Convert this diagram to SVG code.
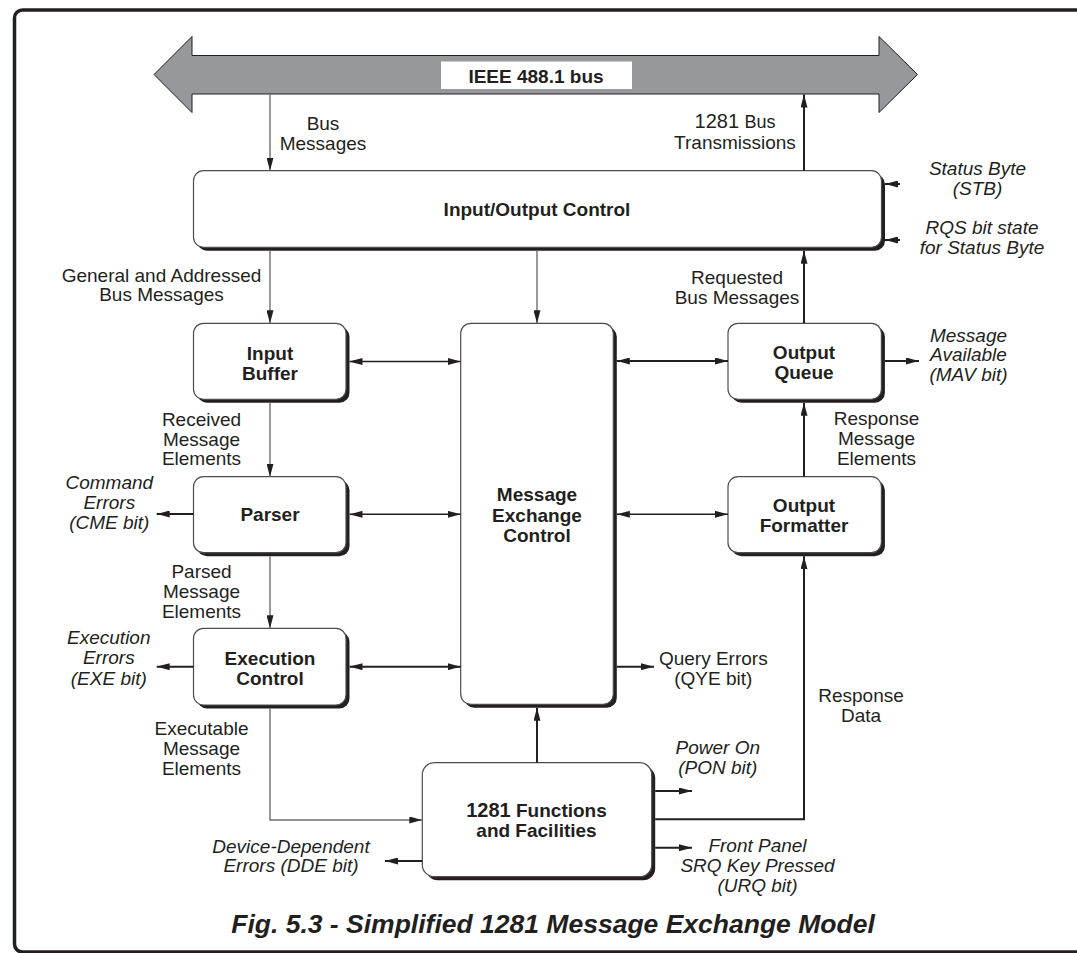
<svg xmlns="http://www.w3.org/2000/svg" width="1077" height="953" viewBox="0 0 1077 953">
<style>
.t{font-family:"Liberation Sans",Arial,Helvetica,sans-serif;font-size:19px;fill:#231f20}
.b{font-weight:bold}
.i{font-style:italic}
.cap{font-size:26.5px}
.box{fill:#fff;stroke:#4d4d4f;stroke-width:1.2}
.sh{fill:#231f20}
.g{stroke:#6d6e71;stroke-width:1.4;fill:none}
.d{stroke:#231f20;stroke-width:2;fill:none}
.m{stroke:#231f20;stroke-width:1.6;fill:none}
.e{marker-end:url(#ah)}
.s{marker-start:url(#ah)}
</style>
<defs>
<marker id="ah" markerUnits="userSpaceOnUse" markerWidth="13" markerHeight="7" refX="13" refY="3.5" orient="auto-start-reverse" viewBox="0 0 13 7">
<path d="M0,0 L13,3.5 L0,7 z" fill="#231f20"/>
</marker>
</defs>
<rect width="1077" height="953" fill="#fff"/>
<rect x="14.5" y="10" width="1090" height="942" rx="8" fill="none" stroke="#231f20" stroke-width="3.5"/>

<g id="bus">
<polygon points="154,74.5 192,36.5 192,55.5 879,55.5 879,36.5 917.5,74.5 879,112.5 879,94 192,94 192,112.5" fill="#97989c" stroke="#231f20" stroke-width="1"/>
<rect x="441" y="61.5" width="191" height="27.5" fill="#fff"/>
<text class="t b" x="536" y="83" text-anchor="middle">IEEE 488.1 bus</text>
</g>

<g id="io-control">
<rect class="sh" x="197" y="174.2" width="688" height="76.6" rx="10"/>
<rect class="box" x="193.5" y="170.7" width="688" height="76.6" rx="10"/>
<text class="t b" x="537" y="216" text-anchor="middle">Input/Output Control</text>
</g>

<g id="input-buffer">
<rect class="sh" x="197" y="326.8" width="152.5" height="76" rx="10"/>
<rect class="box" x="193.5" y="323.3" width="152.5" height="76" rx="10"/>
<text class="t b" x="270" y="360" text-anchor="middle">Input</text>
<text class="t b" x="270" y="380" text-anchor="middle">Buffer</text>
</g>

<g id="parser">
<rect class="sh" x="197" y="480.2" width="152.5" height="76" rx="10"/>
<rect class="box" x="193.5" y="476.7" width="152.5" height="76" rx="10"/>
<text class="t b" x="270" y="521" text-anchor="middle">Parser</text>
</g>

<g id="execution-control">
<rect class="sh" x="197" y="631.8" width="152.5" height="76.7" rx="10"/>
<rect class="box" x="193.5" y="628.3" width="152.5" height="76.7" rx="10"/>
<text class="t b" x="270" y="665" text-anchor="middle">Execution</text>
<text class="t b" x="270" y="685" text-anchor="middle">Control</text>
</g>

<g id="message-exchange-control">
<rect class="sh" x="464.2" y="326.8" width="152.6" height="381" rx="10"/>
<rect class="box" x="460.7" y="323.3" width="152.6" height="381" rx="10"/>
<text class="t b" x="537" y="501" text-anchor="middle">Message</text>
<text class="t b" x="537" y="521.5" text-anchor="middle">Exchange</text>
<text class="t b" x="537" y="542" text-anchor="middle">Control</text>
</g>

<g id="output-queue">
<rect class="sh" x="731.5" y="326.8" width="153.4" height="76" rx="10"/>
<rect class="box" x="728" y="323.3" width="153.4" height="76" rx="10"/>
<text class="t b" x="804" y="359.3" text-anchor="middle">Output</text>
<text class="t b" x="804" y="379" text-anchor="middle">Queue</text>
</g>

<g id="output-formatter">
<rect class="sh" x="731.5" y="480.2" width="153.4" height="76" rx="10"/>
<rect class="box" x="728" y="476.7" width="153.4" height="76" rx="10"/>
<text class="t b" x="804" y="512" text-anchor="middle">Output</text>
<text class="t b" x="804" y="532" text-anchor="middle">Formatter</text>
</g>

<g id="functions-facilities">
<rect class="sh" x="425.8" y="766.2" width="229.4" height="114" rx="12"/>
<rect class="box" x="422.3" y="762.7" width="229.4" height="114" rx="12"/>
<text class="t b" x="536.5" y="817.3" text-anchor="middle"><tspan font-size="20">1281</tspan> Functions</text>
<text class="t b" x="536.5" y="837.3" text-anchor="middle">and Facilities</text>
</g>

<g id="connectors">
<path class="g e" d="M270,94.5 V170.7"/>
<path class="d e" d="M804,170.7 V94.5"/>
<path class="d e" d="M900,184 H885"/>
<path class="d e" d="M900,240 H885"/>
<path class="g e" d="M270,250.8 V323.3"/>
<path class="g e" d="M537,250.8 V323.3"/>
<path class="d e" d="M804,323.3 V250.8"/>
<path class="m s e" d="M349.5,361.5 H460.7"/>
<path class="d s e" d="M616.8,361 H728"/>
<path class="d e" d="M884.9,361 H919"/>
<path class="g e" d="M270,402.8 V476.7"/>
<path class="d e" d="M193.5,514 H156.7"/>
<path class="m s e" d="M349.5,514.3 H460.7"/>
<path class="m s e" d="M616.8,514.3 H728"/>
<path class="d e" d="M804,476.7 V402.8"/>
<path class="g e" d="M270,556.2 V628.3"/>
<path class="d e" d="M193.5,666.7 H156.7"/>
<path class="d s e" d="M349.5,666.7 H460.7"/>
<path class="d e" d="M616.8,666.7 H654"/>
<path class="g e" d="M270,708.5 V820 H422.3"/>
<path class="d e" d="M537,762.7 V707.8"/>
<path class="d e" d="M655.2,791 H692"/>
<path class="d e" d="M655.2,819.3 H804 V556.2"/>
<path class="d e" d="M655.2,847.7 H692"/>
<path class="d e" d="M422.3,861 H385"/>
</g>

<g id="labels">
<text class="t" text-anchor="middle"><tspan x="323" y="130">Bus</tspan><tspan x="323" y="150">Messages</tspan></text>
<text class="t" text-anchor="middle"><tspan x="735" y="128.3"><tspan font-size="20">1281</tspan> <tspan font-size="18">Bus</tspan></tspan><tspan x="735" y="149">Transmissions</tspan></text>
<text class="t i" text-anchor="middle"><tspan x="977.5" y="175">Status Byte</tspan><tspan x="977.5" y="195">(STB)</tspan></text>
<text class="t i" text-anchor="middle"><tspan x="982" y="234">RQS bit state</tspan><tspan x="982" y="253.5">for Status Byte</tspan></text>
<text class="t" text-anchor="middle"><tspan x="161.5" y="281.7">General and Addressed</tspan><tspan x="161.5" y="301">Bus Messages</tspan></text>
<text class="t" text-anchor="middle"><tspan x="737" y="284">Requested</tspan><tspan x="737" y="304">Bus Messages</tspan></text>
<text class="t i" text-anchor="middle"><tspan x="968.5" y="341.7">Message</tspan><tspan x="968.5" y="361.3">Available</tspan><tspan x="968.5" y="380.7">(MAV bit)</tspan></text>
<text class="t" text-anchor="middle"><tspan x="201.5" y="426">Received</tspan><tspan x="201.5" y="445.7">Message</tspan><tspan x="201.5" y="465">Elements</tspan></text>
<text class="t i" text-anchor="middle"><tspan x="109.3" y="489.3">Command</tspan><tspan x="109.3" y="509">Errors</tspan><tspan x="109.3" y="529">(CME bit)</tspan></text>
<text class="t" text-anchor="middle"><tspan x="876.5" y="425">Response</tspan><tspan x="876.5" y="445">Message</tspan><tspan x="876.5" y="464.5">Elements</tspan></text>
<text class="t" text-anchor="middle"><tspan x="201.5" y="578.3">Parsed</tspan><tspan x="201.5" y="597.7">Message</tspan><tspan x="201.5" y="618">Elements</tspan></text>
<text class="t i" text-anchor="middle"><tspan x="108.8" y="644.3">Execution</tspan><tspan x="108.8" y="664.3">Errors</tspan><tspan x="108.8" y="685">(EXE bit)</tspan></text>
<text class="t" text-anchor="middle"><tspan x="713.3" y="665">Query Errors</tspan><tspan x="713.3" y="685">(QYE bit)</tspan></text>
<text class="t" text-anchor="middle"><tspan x="861" y="701.7">Response</tspan><tspan x="861" y="721.7">Data</tspan></text>
<text class="t" text-anchor="middle"><tspan x="201.5" y="735">Executable</tspan><tspan x="201.5" y="755">Message</tspan><tspan x="201.5" y="775">Elements</tspan></text>
<text class="t i" text-anchor="middle"><tspan x="717.8" y="754.3">Power On</tspan><tspan x="717.8" y="774">(PON bit)</tspan></text>
<text class="t i" text-anchor="middle"><tspan x="291" y="852.7">Device-Dependent</tspan><tspan x="291" y="871.7">Errors (DDE bit)</tspan></text>
<text class="t i" text-anchor="middle"><tspan x="757.5" y="851.7">Front Panel</tspan><tspan x="757.5" y="871.7">SRQ Key Pressed</tspan><tspan x="757.5" y="892">(URQ bit)</tspan></text>
</g>

<text class="t b i cap" x="553" y="933" text-anchor="middle">Fig. 5.3 - Simplified 1281 Message Exchange Model</text>
</svg>
